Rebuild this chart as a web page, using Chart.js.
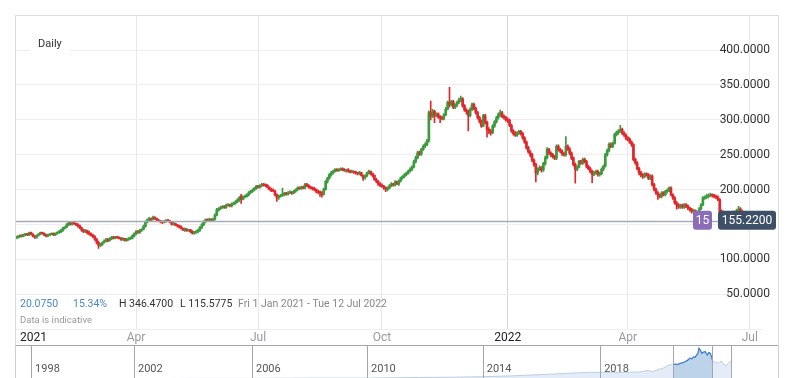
<!DOCTYPE html>
<html>
<head>
<meta charset="utf-8">
<script src="https://cdn.jsdelivr.net/npm/chart.js@4.4.0/dist/chart.umd.min.js"></script>
<style>
  html, body { margin: 0; padding: 0; background: #fff; overflow: hidden; }
  #wrap { position: relative; width: 793px; height: 378px; }
  #main { position: absolute; left: 0; top: 0; }
  #nav { position: absolute; left: 0; top: 345px; }
</style>
</head>
<body>
<div id="wrap">
  <canvas id="main" width="793" height="345"></canvas>
  <canvas id="nav" width="793" height="45"></canvas>
</div>
<script>
// daily candles, Fri 1 Jan 2021 - Tue 12 Jul 2022 (one per trading day)
const opens = [
  130.9,131.2,132.5,134.5,133.0,135.3,136.8,135.0,138.5,136.2,
  133.6,131.4,134.0,136.0,138.7,137.3,135.2,133.5,134.6,135.8,
  136.7,135.0,137.6,138.1,139.2,141.5,144.8,146.0,149.2,152.0,
  150.4,152.9,151.0,149.6,148.3,145.0,142.2,139.6,141.4,138.3,
  136.1,134.2,132.4,128.4,124.3,119.5,121.0,124.2,126.0,128.3,
  127.2,129.6,131.8,130.2,132.2,131.0,130.3,128.4,129.5,126.8,
  128.3,129.6,130.0,133.2,136.5,140.0,138.7,141.5,143.2,147.0,
  153.1,156.4,158.3,156.8,160.5,158.6,156.3,155.2,154.0,152.7,
  154.1,155.8,155.2,153.4,150.2,151.3,149.1,148.2,146.5,144.3,
  141.8,143.4,141.3,142.1,139.8,137.2,138.6,139.6,141.5,145.7,
  149.2,153.6,156.8,155.0,157.6,156.1,157.2,163.3,170.8,172.6,
  174.3,176.0,174.4,177.0,178.2,176.7,179.1,180.5,182.3,185.2,
  190.5,186.0,189.3,190.2,192.4,195.5,197.2,199.3,201.6,204.8,
  203.2,205.6,207.3,206.5,206.2,203.4,200.2,199.5,198.2,192.6,
  188.2,190.3,191.5,192.8,194.6,193.3,195.2,196.4,195.2,197.6,
  199.8,202.3,201.2,203.4,202.2,207.3,205.6,203.6,202.2,201.3,
  200.2,197.7,196.5,195.3,193.2,200.3,211.5,216.6,221.3,224.2,
  226.0,228.9,227.3,228.2,229.3,228.5,226.8,228.2,226.8,225.2,
  226.2,225.0,224.2,223.0,224.2,220.5,216.5,219.6,223.3,226.2,
  223.3,220.2,214.4,212.2,208.2,206.0,204.8,203.2,199.8,202.2,
  205.3,208.2,206.6,211.2,207.8,212.2,216.5,218.7,221.3,223.5,
  226.2,228.8,232.3,239.6,245.3,253.0,250.7,257.3,262.2,264.5,
  270.2,310.5,305.0,312.3,306.2,308.5,304.2,303.3,301.8,307.2,
  315.2,325.0,321.8,326.3,317.8,321.2,324.8,328.1,330.2,320.3,
  314.4,312.2,305.8,315.2,322.2,316.3,310.2,303.3,298.2,290.8,
  306.2,296.2,286.3,284.2,281.4,291.2,296.8,303.2,307.3,310.3,
  305.2,303.2,299.8,299.2,292.2,284.3,280.7,277.8,281.2,283.3,
  280.2,274.3,268.2,260.3,254.2,250.3,242.2,236.3,223.8,228.8,
  231.8,227.8,236.8,245.3,257.7,252.2,250.2,247.3,244.8,262.2,
  257.2,255.3,251.2,249.8,262.3,258.2,252.3,245.3,236.2,228.8,
  232.2,240.8,237.8,243.2,240.2,233.2,230.2,226.3,221.3,223.8,
  226.2,221.3,222.8,229.2,233.6,249.8,256.2,264.9,261.8,266.2,
  279.2,281.8,283.8,286.3,281.2,278.2,274.2,272.3,268.2,264.5,
  243.3,238.2,230.3,224.2,221.2,218.8,222.2,221.3,215.8,219.2,
  207.3,200.3,195.2,192.3,189.8,195.3,192.8,197.2,198.8,202.3,
  192.9,188.2,181.0,178.2,174.8,177.2,174.8,178.3,176.2,173.6,
  171.2,168.4,170.2,165.3,160.8,172.2,178.2,187.8,189.3,189.8,
  191.3,193.0,191.2,190.3,189.2,185.6,168.8,167.3,166.2,162.8,
  165.2,162.8,164.8,167.2,163.8,169.8,172.3,168.2,165.3,163.2,
  159.8,161.2,157.8,159.2,156.8,158.2,155.8,156.8
];
const highs = [
  133,134,135,135,136,137,137,139,139,137,
  134,135,137,139,139,138,136,136,137,138,
  138,138,139,141,143,146,147,151,153,153,
  154,154,152,151,149,146,143,143,142,140,
  138,136,134,130,126,123,125,128,130,130,
  131,133,133,133,133,132,131,131,130,130,
  131,132,135,138,141,141,143,144,149,155,
  158,160,159,162,161,159,157,156,155,156,
  157,157,156,154,153,152,150,149,148,145,
  145,144,143,143,141,140,141,143,147,151,
  155,158,158,159,158,159,165,173,174,176,
  177,177,179,180,179,181,182,184,187,190,
  193,191,192,194,197,199,201,203,206,206,
  207,209,209,208,207,204,202,201,199,194,
  192,193,202,196,196,197,198,197,199,201,
  204,204,205,205,209,209,207,205,204,203,
  201,199,198,197,202,213,218,223,226,228,
  230,230,230,231,231,230,229,230,228,228,
  227,226,225,226,225,221,221,225,228,227,
  224,221,216,213,210,208,206,204,204,207,
  210,209,213,212,214,218,220,223,225,228,
  231,234,242,248,255,255,259,264,267,272,
  313,327,315,314,310,310,306,305,309,318,
  327,346.47,328,328,323,327,331,334,332,322,
  316,314,317,324,324,318,312,305,300,308,
  308,298,289,286,293,299,305,310,314,312,
  307,305,303,301,294,286,283,283,285,285,
  282,276,270,262,256,252,244,238,231,234,
  233,239,248,260,259,254,252,249,264,264,
  259,257,253,276,264,260,254,247,238,234,
  242,242,245,245,242,235,232,228,226,228,
  228,225,231,235,252,258,267,267,268,281,
  284,286,292,288,283,280,276,274,270,266,
  245,240,232,226,223,224,224,223,221,221,
  209,202,197,194,197,197,199,201,204,204,
  194,190,183,180,179,179,180,180,178,175,
  173,172,171,167,174,180,190,191,193,194,
  195,194,193,192,191,187,171,169,168,167,
  167,167,169,169,172,176,174,170,167,165,
  163,162,161,160,160,159,158,158
];
const lows = [
  129,130,131,132,132,134,134,134,135,132,
  130,130,133,135,136,134,132,132,134,135,
  134,134,136,137,138,140,143,145,148,149,
  149,150,148,146,144,140,138,138,136,135,
  133,131,127,122,115.58,118,120,123,125,125,
  126,128,129,129,130,129,127,127,126,126,
  127,128,129,132,135,137,137,140,142,146,
  152,155,155,156,157,155,154,152,151,152,
  153,154,152,149,149,148,146,145,143,141,
  140,140,140,138,136,136,137,138,140,144,
  148,152,154,154,155,155,156,162,169,171,
  173,173,173,176,175,175,178,179,181,183,
  180,185,188,189,191,194,196,198,200,202,
  202,204,205,204,202,199,197,197,191,183,
  186,189,190,191,192,192,194,193,194,196,
  198,200,200,201,201,204,202,201,199,198,
  195,194,190,189,192,199,209,215,219,222,
  225,226,226,227,227,226,225,225,224,224,
  223,222,221,221,219,213,215,218,222,221,
  218,213,210,206,204,203,200,197,198,201,
  204,205,205,207,206,211,215,217,220,222,
  225,227,231,238,244,249,249,256,260,263,
  268,300,303,296,304,302,296,300,300,306,
  314,318,320,316,316,319,323,326,318,312,
  308,284,304,313,314,308,301,295,289,290,
  294,275,280,278,280,289,295,301,305,303,
  301,298,296,290,282,278,276,276,279,278,
  272,266,258,252,247,240,233,211,221,227,
  225,226,235,244,250,247,245,243,243,255,
  253,249,248,248,256,250,243,234,209,227,
  231,236,236,238,231,228,224,210,220,222,
  219,219,221,227,232,248,254,260,260,265,
  277,279,282,279,276,271,270,266,262,241,
  236,228,221,218,216,217,219,214,214,205,
  198,193,186,188,188,191,191,195,197,191,
  186,179,172,173,173,173,173,174,171,169,
  166,166,163,158,160,171,177,186,187,188,
  190,189,188,187,184,166,164,163,161,161,
  161,161,163,162,162,168,166,163,161,158,
  158,156,156,155,155,154,154,153
];
const closes = [
  131.5,132.8,134.1,133.2,135.6,136.4,135.1,138.2,136.0,133.4,
  131.6,133.9,136.2,138.4,137.1,135.0,133.6,134.8,136.1,136.5,
  135.2,137.3,138.0,139.4,141.8,144.6,146.2,149.5,151.8,150.6,
  152.7,151.1,149.3,148.0,145.2,141.9,140.0,141.2,138.1,136.4,
  134.0,132.6,128.7,124.5,119.8,121.3,124.0,126.2,128.0,127.1,
  129.8,131.6,130.4,132.0,131.1,130.0,128.6,129.3,127.0,128.5,
  129.4,130.2,133.5,136.8,139.8,138.9,141.6,143.0,147.2,153.4,
  156.6,158.1,157.0,160.2,158.4,156.1,155.0,153.8,152.9,154.3,
  155.6,155.0,153.2,150.4,151.1,149.0,148.0,146.3,144.1,142.0,
  143.2,141.5,142.0,139.6,137.4,138.8,139.8,141.7,145.9,149.4,
  153.8,156.6,155.2,157.4,156.3,157.0,163.5,171.0,172.4,174.1,
  175.8,174.6,177.2,178.0,176.9,179.3,180.7,182.5,185.0,188.0,
  186.2,189.1,190.0,192.6,195.3,197.4,199.0,201.8,204.6,203.4,
  205.8,207.0,206.2,206.0,203.1,200.0,199.2,198.0,192.4,188.0,
  190.1,191.8,193.0,194.4,193.5,195.0,196.2,195.0,197.8,199.6,
  202.0,201.3,203.0,202.0,207.0,205.4,203.8,202.0,201.1,200.0,
  197.5,196.3,195.0,193.0,200.5,211.8,216.4,221.5,224.0,226.3,
  228.7,227.5,228.0,229.1,228.7,227.0,228.0,226.5,225.0,226.0,
  224.8,224.0,223.2,224.0,220.3,216.7,219.8,223.5,226.0,223.1,
  220.0,214.6,212.0,208.0,206.3,204.6,203.0,200.0,202.0,205.1,
  208.0,206.8,211.0,208.0,212.4,216.7,218.9,221.5,223.7,226.0,
  229.0,232.5,239.8,245.5,252.7,250.9,257.5,262.0,264.7,269.5,
  310.0,305.2,312.0,306.0,308.3,304.0,303.1,302.0,307.0,315.0,
  324.8,322.0,326.0,318.0,321.4,325.0,328.3,330.0,320.0,314.2,
  312.0,306.0,315.0,322.0,316.5,310.0,303.5,298.0,291.0,306.0,
  296.0,286.0,284.0,281.6,291.0,297.0,303.0,307.5,310.0,305.0,
  303.0,300.0,299.0,292.0,284.0,280.5,278.0,281.0,283.0,280.0,
  274.0,268.0,260.0,254.0,250.0,242.0,236.0,224.0,229.0,231.5,
  228.0,237.0,245.5,257.5,252.0,250.0,247.0,245.0,262.0,257.0,
  255.0,251.0,250.0,262.0,258.0,252.0,245.0,236.0,229.0,232.0,
  240.6,238.0,243.0,240.0,233.4,230.0,226.0,221.5,224.0,226.0,
  221.5,223.0,229.0,233.4,250.0,256.0,264.7,262.0,266.0,279.0,
  282.0,284.0,286.0,281.0,278.0,274.0,272.0,268.0,264.7,243.0,
  238.0,230.0,224.0,221.0,219.0,222.0,221.5,216.0,219.0,207.0,
  200.0,195.0,192.0,190.0,195.0,193.0,197.4,199.0,202.0,192.7,
  188.0,180.7,178.0,175.0,177.0,175.0,178.0,176.0,173.5,171.0,
  168.6,170.0,165.0,161.0,172.0,178.0,188.0,189.0,190.0,191.5,
  192.7,191.0,190.0,189.0,185.4,168.6,167.0,166.0,163.0,165.0,
  163.0,165.0,167.0,164.0,170.0,172.0,168.0,165.0,163.0,160.0,
  161.0,158.0,159.0,157.0,158.0,156.0,156.5,155.2
];

// x-axis: candle index where each month label sits
const monthTicks = [0, 64, 129, 195, 262, 326, 391];
const monthLabels = ['2021', 'Apr', 'Jul', 'Oct', '2022', 'Apr', 'Jul'];
const yTicks = [50, 100, 150, 200, 250, 300, 350, 400];

const lastPrice = 155.22;
const tagNumber = '15';

// long-range navigator (years, level)
const navYears = [1998.46, 2000, 2002, 2004, 2006, 2008, 2010, 2011.8, 2013, 2014, 2015, 2016, 2017, 2017.7, 2018.8, 2019.4, 2019.69, 2019.85, 2020.0, 2020.2, 2020.4,
  2020.56, 2020.65, 2020.72, 2020.79, 2020.87, 2020.96, 2021.03, 2021.13, 2021.2, 2021.25, 2021.31, 2021.36, 2021.4, 2021.44, 2021.49,
  2021.54, 2021.6, 2021.66, 2021.7, 2021.73, 2021.78, 2021.82, 2021.87, 2021.9,
  2021.96, 2022.04, 2022.11, 2022.16, 2022.22, 2022.28, 2022.34, 2022.4, 2022.45, 2022.54];
const navValues = [52, 53, 53, 54, 54, 55, 55, 57, 58, 60, 63, 68, 74, 78, 78, 80, 88, 82, 90, 100, 122,
  125, 130, 126, 136, 140, 150, 160, 185, 178, 200, 195, 226, 240, 340, 300,
  251, 270, 276, 240, 226, 262, 255, 210, 166,
  150, 140, 136, 150, 150, 130, 115, 125, 136, 159];
const navSelStart = 2020.56;
const navSelEnd = 2021.9;
const navSepYears = [1998.46, 2002, 2006.06, 2010.02, 2014, 2018.04];
const navSepLabels = ['1998', '2002', '2006', '2010', '2014', '2018'];
const navFrames = [2020.56, 2021.9, 2022.54];

const GREEN = '#3a9b3c';
const RED = '#e2262c';
const FONT = 'Roboto, "Noto Sans", sans-serif';

const idx = closes.map((_, i) => i);
const candleColors = idx.map(i => closes[i] >= opens[i] ? GREEN : RED);

const overlay = {
  id: 'overlay',
  afterDatasetsDraw(chart) {
    const { ctx, chartArea: a, scales: { y } } = chart;
    const py = Math.round(y.getPixelForValue(lastPrice)) + 0.5;
    ctx.save();
    ctx.strokeStyle = '#a4abb9';
    ctx.lineWidth = 1.5;
    ctx.beginPath();
    ctx.moveTo(a.left, py);
    ctx.lineTo(a.right, py);
    ctx.stroke();
    ctx.restore();
  },
  afterDraw(chart) {
    const { ctx, scales: { x, y } } = chart;
    ctx.save();
    // frame
    ctx.strokeStyle = '#dcdcdc';
    ctx.lineWidth = 1;
    ctx.beginPath();
    ctx.moveTo(15.5, 345); ctx.lineTo(15.5, 15.5); ctx.lineTo(778.5, 15.5); ctx.lineTo(778.5, 345);
    ctx.stroke();

    // "Daily" label
    ctx.fillStyle = '#fff';
    ctx.fillRect(30, 35, 40, 18);
    ctx.fillStyle = '#333';
    ctx.font = '11px ' + FONT;
    ctx.textBaseline = 'middle';
    ctx.textAlign = 'left';
    ctx.fillText('Daily', 38, 44);

    // x labels
    ctx.font = '12px ' + FONT;
    monthTicks.forEach((t, i) => {
      const isYear = /^\d{4}$/.test(monthLabels[i]);
      ctx.fillStyle = isYear ? '#222' : '#999';
      if (i === 0) {
        ctx.textAlign = 'left';
        ctx.fillText(monthLabels[i], 20, 338);
      } else {
        ctx.textAlign = 'center';
        ctx.fillText(monthLabels[i], x.getPixelForValue(t), 338);
      }
    });

    // summary line
    ctx.textAlign = 'left';
    ctx.font = '10.5px ' + FONT;
    ctx.fillStyle = '#4a88c7';
    ctx.fillText('20.0750', 20, 304);
    ctx.fillText('15.34%', 73, 304);
    ctx.fillStyle = '#333';
    ctx.fillText('H 346.4700', 119, 304);
    ctx.fillText('L 115.5775', 180, 304);
    ctx.fillStyle = '#888';
    ctx.fillText('Fri 1 Jan 2021 - Tue 12 Jul 2022', 238, 304);
    ctx.font = '9.5px ' + FONT;
    ctx.fillStyle = '#999';
    ctx.fillText('Data is indicative', 20, 321);

    // price tags
    const py = y.getPixelForValue(lastPrice);
    const tag = (x0, w, color, text) => {
      ctx.fillStyle = color;
      ctx.beginPath();
      ctx.roundRect(x0, py - 10, w, 19, 3);
      ctx.fill();
      ctx.fillStyle = '#fff';
      ctx.textAlign = 'center';
      ctx.font = '12px ' + FONT;
      ctx.fillText(text, x0 + w / 2, py);
    };
    tag(693, 19, '#8b6cb9', tagNumber);
    tag(718, 58, '#3e5068', lastPrice.toFixed(4));
    ctx.restore();
  }
};

new Chart(document.getElementById('main'), {
  type: 'bar',
  data: {
    labels: idx,
    datasets: [
      {
        data: idx.map(i => [lows[i], highs[i]]),
        backgroundColor: candleColors,
        barThickness: 1,
        grouped: false,
        order: 2
      },
      {
        data: idx.map(i => [opens[i], closes[i]]),
        backgroundColor: candleColors,
        barThickness: 2,
        minBarLength: 1,
        grouped: false,
        order: 1
      }
    ]
  },
  options: {
    responsive: false,
    animation: false,
    layout: { padding: { left: 15, right: 15, top: 15, bottom: 16 } },
    plugins: { legend: { display: false }, tooltip: { enabled: false } },
    scales: {
      x: {
        ticks: { display: false },
        border: { display: false },
        grid: {
          drawTicks: false,
          offset: false,
          color: ctx => (ctx.tick && monthTicks.includes(ctx.tick.value))
            ? (ctx.tick.value === 262 ? '#d6d6d6' : '#e8e8e8') : 'rgba(0,0,0,0)'
        }
      },
      y: {
        position: 'right',
        min: 0,
        max: 450,
        border: { display: false },
        grid: { drawTicks: false, color: '#eeeeee' },
        ticks: {
          stepSize: 50,
          mirror: true,
          padding: 8,
          color: '#333',
          font: { family: FONT, size: 12 },
          callback: v => yTicks.includes(v) ? v.toFixed(4) : ''
        }
      }
    }
  },
  plugins: [overlay]
});

const navDecor = {
  id: 'navDecor',
  afterDraw(chart) {
    const { ctx, scales: { x } } = chart;
    ctx.save();
    ctx.strokeStyle = '#a6a6b3';
    ctx.lineWidth = 1;
    ctx.beginPath();
    ctx.moveTo(15, 0.5); ctx.lineTo(779, 0.5);
    navSepYears.concat(navFrames).forEach(v => {
      const px = Math.round(x.getPixelForValue(v)) + 0.5;
      ctx.moveTo(px, 0); ctx.lineTo(px, 45);
    });
    ctx.stroke();
    ctx.strokeStyle = '#d0d0d0';
    ctx.beginPath();
    ctx.moveTo(15.5, 0); ctx.lineTo(15.5, 45);
    ctx.moveTo(778.5, 0); ctx.lineTo(778.5, 45);
    ctx.stroke();
    ctx.fillStyle = '#555';
    ctx.font = '11px ' + FONT;
    ctx.textBaseline = 'middle';
    navSepLabels.forEach((t, i) => ctx.fillText(t, x.getPixelForValue(navSepYears[i]) + 4, 24));
    ctx.restore();
  }
};

const navPoints = navYears.map((yr, i) => ({ x: yr, y: navValues[i] }));

new Chart(document.getElementById('nav'), {
  type: 'line',
  data: {
    datasets: [
      {
        data: navPoints,
        borderColor: '#b9cfe8',
        backgroundColor: '#e4edf7',
        borderWidth: 1,
        pointRadius: 0,
        fill: 'start',
        order: 2
      },
      {
        data: navPoints.filter(p => p.x >= navSelStart && p.x <= navSelEnd),
        borderColor: '#3b7dc6',
        backgroundColor: '#bdd3ea',
        borderWidth: 1.2,
        pointRadius: 0,
        fill: 'start',
        order: 1
      }
    ]
  },
  options: {
    responsive: false,
    animation: false,
    layout: { padding: 0 },
    plugins: { legend: { display: false }, tooltip: { enabled: false } },
    scales: {
      x: { type: 'linear', min: 1997.389, max: 2024.677, display: false },
      y: { type: 'logarithmic', min: 26.5, max: 417, display: false }
    }
  },
  plugins: [navDecor]
});
</script>
</body>
</html>
